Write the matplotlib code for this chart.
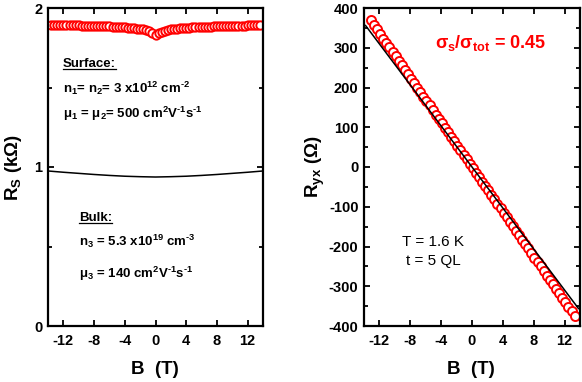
import numpy as np
import matplotlib.pyplot as plt
from matplotlib.lines import Line2D
from matplotlib.ticker import MultipleLocator

plt.rcParams["font.family"] = ["Liberation Sans", "DejaVu Sans"]
plt.rcParams["font.weight"] = "bold"
plt.rcParams["axes.unicode_minus"] = False
plt.rcParams["mathtext.fontset"] = "custom"
plt.rcParams["mathtext.rm"] = "Liberation Sans:bold"
plt.rcParams["mathtext.bf"] = "Liberation Sans:bold"
plt.rcParams["mathtext.it"] = "Liberation Sans:bold"
plt.rcParams["mathtext.default"] = "bf"

# Left panel: sheet resistance R_s vs B (kOhm)
b_rs = [-13.6, -13.2, -12.8, -12.4, -12.0, -11.6, -11.2, -10.8, -10.4, -10.0,
        -9.6, -9.2, -8.8, -8.4, -8.0, -7.6, -7.2, -6.8, -6.4, -6.0,
        -5.6, -5.2, -4.8, -4.4, -4.0, -3.6, -3.2, -2.8, -2.4, -2.0,
        -1.6, -1.2, -0.8, -0.4, 0.0, 0.4, 0.8, 1.2, 1.6, 2.0,
        2.4, 2.8, 3.2, 3.6, 4.0, 4.4, 4.8, 5.2, 5.6, 6.0,
        6.4, 6.8, 7.2, 7.6, 8.0, 8.4, 8.8, 9.2, 9.6, 10.0,
        10.4, 10.8, 11.2, 11.6, 12.0, 12.4, 12.8, 13.2, 13.6]
rs_meas = [1.893, 1.893, 1.892, 1.892, 1.892, 1.891, 1.891, 1.890, 1.890, 1.890,
           1.889, 1.889, 1.888, 1.888, 1.887, 1.887, 1.886, 1.886, 1.885, 1.884,
           1.883, 1.882, 1.881, 1.880, 1.879, 1.877, 1.876, 1.874, 1.871, 1.869,
           1.865, 1.860, 1.853, 1.843, 1.832, 1.842, 1.852, 1.858, 1.862, 1.866,
           1.868, 1.871, 1.873, 1.874, 1.876, 1.877, 1.878, 1.879, 1.880, 1.881,
           1.882, 1.883, 1.883, 1.884, 1.885, 1.886, 1.886, 1.887, 1.887, 1.888,
           1.888, 1.889, 1.889, 1.889, 1.890, 1.890, 1.890, 1.891, 1.891]

b_bulk = [-14, -12, -10, -8, -6, -4, -2, 0, 2, 4, 6, 8, 10, 12, 14]
rs_bulk = [0.975, 0.967, 0.960, 0.953, 0.947, 0.942, 0.939, 0.937,
           0.939, 0.942, 0.947, 0.953, 0.960, 0.967, 0.975]

# Right panel: Hall resistance R_yx vs B (Ohm)
b_ryx = [-13.1, -12.7, -12.3, -11.9, -11.5, -11.1, -10.7, -10.3, -9.9, -9.5,
         -9.1, -8.7, -8.3, -7.9, -7.5, -7.1, -6.7, -6.3, -5.9, -5.5,
         -5.1, -4.7, -4.3, -3.9, -3.5, -3.1, -2.7, -2.3, -1.9, -1.5,
         -1.1, -0.7, -0.3, 0.1, 0.5, 0.9, 1.3, 1.7, 2.1, 2.5,
         2.9, 3.3, 3.7, 4.1, 4.5, 4.9, 5.3, 5.7, 6.1, 6.5,
         6.9, 7.3, 7.7, 8.1, 8.5, 8.9, 9.3, 9.7, 10.1, 10.5,
         10.9, 11.3, 11.7, 12.1, 12.5, 12.9, 13.3]
ryx_meas = [370, 357, 346, 334, 323, 312, 301, 289, 278, 267,
            256, 244, 233, 222, 211, 200, 188, 177, 166, 155,
            143, 132, 121, 110, 98, 87, 76, 65, 53, 42,
            31, 20, 8, -3, -14, -25, -37, -48, -59, -70,
            -81, -93, -104, -115, -126, -138, -149, -160, -171, -183,
            -194, -205, -216, -228, -239, -250, -261, -273, -284, -295,
            -306, -318, -329, -340, -351, -362, -374]

b_fit = [-13.8, 13.8]
ryx_fit = [356, -356]

W, H = 582, 382
fig = plt.figure(figsize=(W / 100, H / 100), dpi=100)
ax1 = fig.add_axes([48 / W, (H - 326) / H, 215 / W, 318 / H])
ax2 = fig.add_axes([364 / W, (H - 326) / H, 216 / W, 318 / H])

for ax in (ax1, ax2):
    for sp in ax.spines.values():
        sp.set_linewidth(1.6)
    ax.set_xlim(-14, 14)
    ax.xaxis.set_major_locator(MultipleLocator(4))
    ax.tick_params(which="both", direction="in", top=True, right=True,
                   width=1.3, labelsize=10.5, pad=6)
    ax.tick_params(which="major", length=4.5)
    ax.tick_params(which="minor", length=3)

# left
ax1.plot(b_rs, rs_meas, "o", ms=6, mfc="white", mec="red", mew=1.4)
ax1.plot(b_bulk, rs_bulk, "-", color="black", lw=1.1)
ax1.set_ylim(0, 2)
ax1.yaxis.set_major_locator(MultipleLocator(1))
ax1.yaxis.set_minor_locator(MultipleLocator(0.5))
ax1.tick_params(axis="y", which="major", pad=4)

tsize = 9.5
m = r"\text{-}"
t_surf = ax1.text(0.07, 0.814, "Surface:", transform=ax1.transAxes, fontsize=tsize, va="baseline")
ax1.text(0.07, 0.733, "n$_1$= n$_2$= 3 x10$^{12}$ cm$^{" + m + "2}$",
         transform=ax1.transAxes, fontsize=tsize, va="baseline")
ax1.text(0.07, 0.654, "μ$_1$ = μ$_2$= 500 cm$^2$V$^{" + m + "1}$s$^{" + m + "1}$",
         transform=ax1.transAxes, fontsize=tsize, va="baseline")
t_bulk = ax1.text(0.144, 0.330, "Bulk:", transform=ax1.transAxes, fontsize=tsize, va="baseline")
ax1.text(0.144, 0.252, "n$_3$ = 5.3 x10$^{19}$ cm$^{" + m + "3}$",
         transform=ax1.transAxes, fontsize=tsize, va="baseline")
ax1.text(0.144, 0.151, "μ$_3$ = 140 cm$^2$V$^{" + m + "1}$s$^{" + m + "1}$",
         transform=ax1.transAxes, fontsize=tsize, va="baseline")

# right
ax2.plot(b_ryx, ryx_meas, "o", ms=6.5, mfc="white", mec="red", mew=1.4)
ax2.plot(b_fit, ryx_fit, "-", color="black", lw=1.1)
ax2.set_ylim(-400, 400)
ax2.yaxis.set_major_locator(MultipleLocator(100))
ax2.yaxis.set_minor_locator(MultipleLocator(50))
ax2.tick_params(axis="y", which="major", pad=4)

ax2.text(0.33, 0.874, "σ$_s$/σ$_{tot}$ = 0.45", transform=ax2.transAxes,
         fontsize=13, color="red", va="baseline")
ax2.text(0.32, 0.252, "T = 1.6 K", transform=ax2.transAxes, fontsize=11,
         fontweight="normal", ha="center", va="baseline")
ax2.text(0.32, 0.192, "t = 5 QL", transform=ax2.transAxes, fontsize=11,
         fontweight="normal", ha="center", va="baseline")

# axis labels
fig.text(155 / W, 1 - 369 / H, "B  (T)", fontsize=13.5, ha="center", va="center")
fig.text(471 / W, 1 - 369 / H, "B  (T)", fontsize=13.5, ha="center", va="center")
fig.text(13 / W, 1 - 167 / H, "R$_S$ (kΩ)", fontsize=13.5, rotation=90, ha="center", va="center")
fig.text(315 / W, 1 - 167 / H, "R$_{yx}$ (Ω)", fontsize=13.5, rotation=90, ha="center", va="center")

# underline headings
fig.canvas.draw()
r = fig.canvas.get_renderer()
for t in (t_surf, t_bulk):
    bb = t.get_window_extent(r)
    _, yb = t.get_transform().transform(t.get_position())
    y = (yb - 2) / H
    fig.add_artist(Line2D([bb.x0 / W, bb.x1 / W], [y, y], color="black", lw=0.9))

fig.savefig("out.png", dpi=100)
